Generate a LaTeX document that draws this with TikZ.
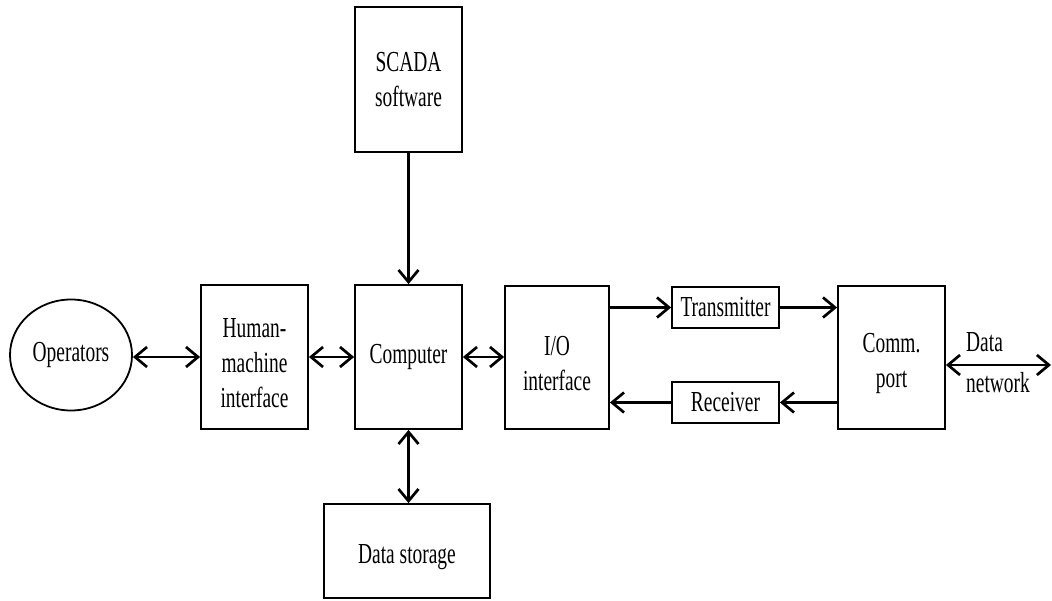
\documentclass[tikz,border=0pt]{standalone}
\usepackage{fontspec}
\setmainfont{Liberation Serif}[FakeStretch=0.67]
\usetikzlibrary{arrows.meta,shapes.geometric}
\begin{document}
\begin{tikzpicture}[x=1pt,y=-1pt,
  txt/.style={font=\fontsize{29}{35}\selectfont},
  blk/.style={draw,line width=1.8pt,inner sep=0pt,align=center,txt},
  lowtext/.style={label={[txt,align=center,inner sep=0pt,yshift=-6pt]center:{#1}}},
  barb/.tip={Straight Barb[length=12pt,width=20pt]},
  flow/.style={line width=2.7pt,-barb},
  both/.style={line width=2.7pt,barb-barb}]
\useasboundingbox (0,0) rectangle (1052,601);

% blocks
\node[blk,minimum width=107pt,minimum height=145pt] (scada) at (408.5,79.5) {SCADA\\software};
\node[blk,minimum width=107pt,minimum height=144pt] (comp) at (408.5,357) {Computer};
\node[blk,minimum width=107pt,minimum height=144pt,lowtext={Human-\\machine\\interface}] (hmi) at (254.5,357) {};
\node[blk,minimum width=104pt,minimum height=143pt,lowtext={I/O\\interface}] (io) at (557,357.5) {};
\node[blk,minimum width=107pt,minimum height=41pt] (tx) at (725.5,307.5) {Transmitter};
\node[blk,minimum width=107pt,minimum height=41pt] (rx) at (725.5,402.5) {Receiver};
\node[blk,minimum width=107pt,minimum height=143pt,lowtext={Comm.\\port}] (comm) at (891.5,357.5) {};
\node[blk,minimum width=166pt,minimum height=94pt,lowtext={Data storage}] (ds) at (407,551) {};
\node[blk,ellipse,minimum width=122pt,minimum height=111pt] (op) at (71,355) {Operators};
\node[txt,align=left,inner sep=0pt,anchor=west,font=\fontsize{29}{41}\selectfont] (dnet) at (966,363) {Data\\network};
\coordinate (net) at (1051,365);

% connectors
\draw[flow] (scada) -- (comp);
\draw[both] (comp.south) -- (comp.south |- ds.north);
\draw[both] (hmi.west -| op.east) -- (hmi.west);
\draw[both] (hmi) -- (comp);
\draw[both] (comp.east) -- (comp.east -| io.west);
\draw[flow] (io.east |- tx.west) -- (tx.west);
\draw[flow] (tx) -- (tx -| comm.west);
\draw[flow] (comm.west |- rx.east) -- (rx.east);
\draw[flow] (rx) -- (rx -| io.east);
\draw[both] (comm.east |- net) -- (net);
\end{tikzpicture}
\end{document}
